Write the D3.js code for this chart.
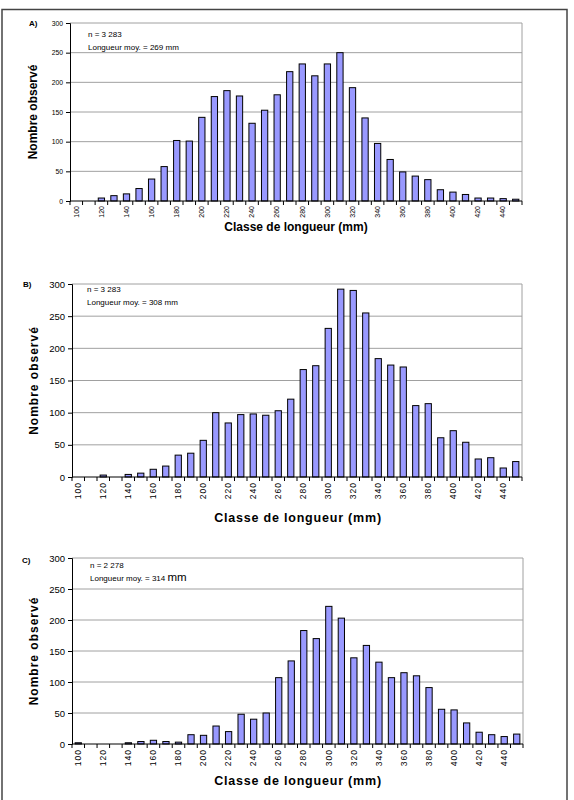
<!DOCTYPE html>
<html>
<head>
<meta charset="utf-8">
<script src="https://cdn.jsdelivr.net/npm/d3@7"></script>
<style>
  body { margin: 0; background: #fff; }
  svg text { font-family: "Liberation Sans", Arial, sans-serif; fill: #000; }
</style>
</head>
<body>
<div id="chart"></div>
<script>
// length classes (mm), one bar per 10 mm class
var classes = [100, 110, 120, 130, 140, 150, 160, 170, 180, 190, 200, 210, 220, 230, 240, 250, 260, 270,
               280, 290, 300, 310, 320, 330, 340, 350, 360, 370, 380, 390, 400, 410, 420, 430, 440, 450];

var countsA = [0, 0, 5, 9, 12, 21, 37, 58, 102, 101, 141, 176, 186, 177, 131, 153, 179, 218,
               231, 211, 231, 250, 191, 140, 97, 70, 49, 42, 36, 19, 15, 11, 5, 5, 4, 3];
var countsB = [0, 0, 3, 0, 4, 6, 12, 17, 34, 37, 57, 100, 84, 97, 98, 96, 103, 121,
               167, 173, 231, 292, 290, 255, 184, 174, 171, 111, 114, 61, 72, 54, 28, 30, 14, 24];
var countsC = [2, 0, 0, 0, 2, 4, 6, 4, 3, 15, 14, 29, 20, 48, 40, 50, 107, 134,
               183, 170, 222, 203, 139, 159, 132, 107, 115, 110, 91, 56, 55, 34, 19, 15, 12, 16];

var yTicks = [0, 50, 100, 150, 200, 250, 300];
var xLabels = [100, 120, 140, 160, 180, 200, 220, 240, 260, 280, 300, 320, 340, 360, 380, 400, 420, 440];

var panelNames = ["A)", "B)", "C)"];
var sampleSizes = ["n = 3 283", "n = 3 283", "n = 2 278"];
var meanLengths = ["269", "308", "314"];

var svgWidth = 574;
var svgHeight = 800;

// layout of each panel (plot box in page coords + font sizes)
var panels = [
    { counts: countsA, left: 70, right: 522, top: 23, bottom: 201, tickFont: 6.8, xFont: 7, xSpacing: 0,
      tagX: 29, tagY: 26, titleX: 296, titleY: 231, yTitleX: 33, yFont: 12, ySpacing: 0, xTitleFont: 12, xTitleSpacing: 0,
      noteY: 37, noteX: 88 },
    { counts: countsB, left: 72, right: 522, top: 284, bottom: 477, tickFont: 9.5, xFont: 8.5, xSpacing: 1,
      tagX: 23, tagY: 287, titleX: 298, titleY: 522, yTitleX: 34, yFont: 12, ySpacing: 1, xTitleFont: 12.5, xTitleSpacing: 0.8,
      noteY: 292, noteX: 87 },
    { counts: countsC, left: 72, right: 523, top: 558, bottom: 744, tickFont: 9.5, xFont: 8.5, xSpacing: 1,
      tagX: 22, tagY: 563, titleX: 298, titleY: 785, yTitleX: 34, yFont: 12, ySpacing: 1, xTitleFont: 12.5, xTitleSpacing: 0.8,
      noteY: 568, noteX: 90 }
];

var svg = d3.select("#chart")
    .append("svg")
    .attr("width", svgWidth)
    .attr("height", svgHeight);

svg.append("rect")
    .attr("x", 2)
    .attr("y", 9.5)
    .attr("width", 565)
    .attr("height", 800)
    .attr("fill", "none")
    .attr("stroke", "#444")
    .attr("stroke-width", 1.5);

panels.forEach(function(p, i) {
    var g = svg.append("g");

    var x = d3.scaleBand()
        .domain(classes)
        .range([p.left, p.right])
        .paddingInner(0.5)
        .paddingOuter(0.25);

    // band boundaries (for ticks between bars)
    var step = (p.right - p.left) / classes.length;

    var y = d3.scaleLinear()
        .domain([0, 300])
        .range([p.bottom, p.top]);

    // gridlines
    g.selectAll(".grid")
        .data(yTicks.slice(1))
        .enter()
        .append("line")
        .attr("x1", p.left)
        .attr("x2", p.right)
        .attr("y1", d => y(d))
        .attr("y2", d => y(d))
        .attr("stroke", "#a0a0a0")
        .attr("stroke-width", 1);

    // right border of plot area
    g.append("line")
        .attr("x1", p.right).attr("x2", p.right)
        .attr("y1", p.top).attr("y2", p.bottom)
        .attr("stroke", "#a0a0a0");

    // bars
    g.selectAll(".bar")
        .data(p.counts)
        .enter()
        .append("rect")
        .attr("x", (d, j) => x(classes[j]))
        .attr("width", x.bandwidth())
        .attr("y", d => y(d))
        .attr("height", d => y(0) - y(d))
        .attr("fill", "#9999ff")
        .attr("stroke", "#000")
        .attr("stroke-width", 1)
        .attr("display", d => d > 0 ? null : "none");

    // y axis
    var leftAxis = d3.axisLeft(y).tickValues(yTicks).tickSize(4).tickPadding(3);
    var ya = g.append("g")
        .attr("transform", `translate(${p.left}, 0)`)
        .call(leftAxis);
    ya.select(".domain").attr("stroke", "#000");
    ya.selectAll("text").style("font-size", p.tickFont + "px");

    // x axis: labels every other class, ticks between classes
    var bottomAxis = d3.axisBottom(x).tickValues(xLabels).tickSize(0).tickPadding(0);
    var xa = g.append("g")
        .attr("transform", `translate(0, ${p.bottom})`)
        .call(bottomAxis);
    xa.select(".domain").attr("d", `M${p.left},0H${p.right}`).attr("stroke", "#000");
    xa.selectAll("text")
        .attr("transform", "rotate(-90)")
        .attr("x", -5)
        .attr("y", 0)
        .attr("dy", "0.32em")
        .style("text-anchor", "end")
        .style("font-size", p.xFont + "px")
        .style("letter-spacing", p.xSpacing + "px");

    g.selectAll(".xtick")
        .data(d3.range(classes.length + 1))
        .enter()
        .append("line")
        .attr("x1", d => p.left + d * step)
        .attr("x2", d => p.left + d * step)
        .attr("y1", p.bottom)
        .attr("y2", p.bottom + 4)
        .attr("stroke", "#000");

    // panel tag
    g.append("text")
        .attr("x", p.tagX)
        .attr("y", p.tagY)
        .style("font-size", "8px")
        .style("font-weight", "bold")
        .text(panelNames[i]);

    // axis titles
    g.append("text")
        .attr("transform", `translate(${p.yTitleX}, ${(p.top + p.bottom) / 2}) rotate(-90)`)
        .attr("text-anchor", "middle")
        .attr("dy", "0.35em")
        .style("font-size", p.yFont + "px")
        .style("font-weight", "bold")
        .style("letter-spacing", p.ySpacing + "px")
        .text("Nombre observé");

    g.append("text")
        .attr("x", p.titleX)
        .attr("y", p.titleY)
        .attr("text-anchor", "middle")
        .style("font-size", p.xTitleFont + "px")
        .style("font-weight", "bold")
        .style("letter-spacing", p.xTitleSpacing + "px")
        .text("Classe de longueur (mm)");

    // annotation
    g.append("text")
        .attr("x", p.noteX)
        .attr("y", p.noteY)
        .style("font-size", "8px")
        .text(sampleSizes[i]);

    var note = g.append("text")
        .attr("x", p.noteX)
        .attr("y", p.noteY + 13)
        .style("font-size", "8px")
        .text("Longueur moy. = " + meanLengths[i] + " ");
    note.append("tspan")
        .style("font-size", i === 2 ? "11.5px" : "8px")
        .text("mm");
});
</script>
</body>
</html>
